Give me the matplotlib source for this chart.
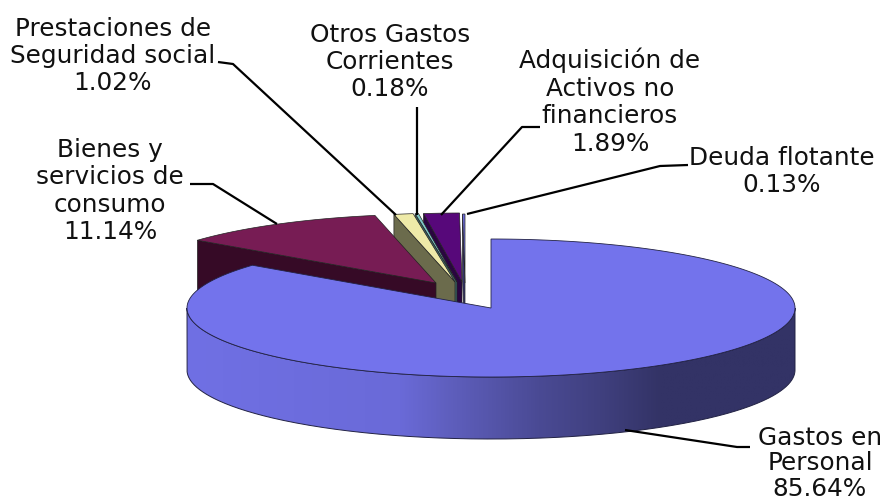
import numpy as np
import matplotlib
matplotlib.use("Agg")
import matplotlib.pyplot as plt
from matplotlib.colors import LinearSegmentedColormap
from matplotlib.patches import Polygon, PathPatch
from matplotlib.path import Path

# Data
labels = ["Gastos en\nPersonal", "Bienes y\nservicios de\nconsumo", "Prestaciones de\nSeguridad social",
          "Otros Gastos\nCorrientes", "Adquisición de\nActivos no\nfinancieros", "Deuda flotante"]
values = [85.64, 11.14, 1.02, 0.18, 1.89, 0.13]

# Slice look
top_colors = ["#7373ec", "#771c54", "#eeeaa8", "#7fc8c8", "#57087a", "#6c6cd8"]
side_colors = ["#7070e0", "#360a26", "#6b6b4c", "#3c6464", "#2a0540", "#34346c"]
shift_x = [0, -55, -36, -34, -29, -26]
shift_y = [0, -25, -26, -26, -26, -25]

# Ellipse in pixels
cx, cy = 491, 308
rx, ry = 304, 69
depth = 62

label_x = [820, 110, 113, 390, 610, 782]
label_y = [445, 157, 36, 42, 68, 165]
line_gap = [25.5, 27.3, 26.8, 27, 27.6, 27]

leaders = [
    [(625, 430), (737, 447), (750, 447)],
    [(190, 184), (213, 184), (277, 224)],
    [(218, 62), (233, 64), (396, 215)],
    [(417, 107), (417, 215)],
    [(540, 127), (522, 127), (441, 215)],
    [(688, 165), (660, 166), (467, 214)],
]

fig = plt.figure(figsize=(8.85, 5.03), dpi=100)
ax = fig.add_axes([0, 0, 1, 1])
ax.set_xlim(0, 885)
ax.set_ylim(503, 0)
ax.axis("off")

# Clockwise from 12 o'clock
edges = np.concatenate([[0], np.cumsum(values)]) / sum(values) * 360


def rim(a0, a1, dx=0, dy=0, drop=0):
    t = np.radians(np.linspace(a0, a1, max(int(abs(a1 - a0)) * 2, 2)))
    return np.column_stack([cx + dx + rx * np.sin(t), cy + dy + drop - ry * np.cos(t)])


# Small slices from the back, then the burgundy one, blue last
for i in [5, 4, 3, 2, 1]:
    a0, a1 = edges[i], edges[i + 1]
    apex = np.array([cx + shift_x[i], cy + shift_y[i]])
    outer = rim(a0, a1, shift_x[i], shift_y[i])
    first = outer[0]
    face = [apex, first, first + [0, depth], apex + [0, depth]]
    ax.add_patch(Polygon(face, fc=side_colors[i], ec="#222222", lw=0.5, zorder=2 + (5 - i)))
    ax.add_patch(Polygon(np.vstack([apex, outer]), fc=top_colors[i], ec="#222222", lw=0.5, zorder=2 + (5 - i)))

# Blue outer wall with the left-to-right shading
wall = np.vstack([rim(90, 270), rim(90, 270, drop=depth)[::-1]])
wall_patch = PathPatch(Path(np.vstack([wall, wall[0]])), fc="none", ec="#222244", lw=0.7, zorder=9)
ax.add_patch(wall_patch)
shade = LinearSegmentedColormap.from_list("wall", [(0, "#7070e4"), (0.35, "#6a6ad8"), (0.43, "#5f5fbe"),
                                                   (0.58, "#4a4a94"), (0.68, "#40407f"), (0.78, "#333366"),
                                                   (1, "#333366")])
im = ax.imshow(np.linspace(0, 1, 256)[None, :], cmap=shade, aspect="auto", zorder=8,
               extent=[cx - rx, cx + rx, cy + ry + depth, cy - ry])
im.set_clip_path(wall_patch)
ax.set_xlim(0, 885)
ax.set_ylim(503, 0)

blue_top = np.vstack([[cx, cy], rim(edges[0], edges[1])])
ax.add_patch(Polygon(blue_top, fc=top_colors[0], ec="#222244", lw=0.6, zorder=10))

# Leader lines
for pts in leaders:
    xs, ys = zip(*pts)
    ax.plot(xs, ys, color="black", lw=1.6, zorder=12, solid_capstyle="butt")

# Labels
for lab, val, x, y, gap in zip(labels, values, label_x, label_y, line_gap):
    for k, line in enumerate((lab + "\n" + f"{val:.2f}%").split("\n")):
        ax.text(x, y + k * gap, line, ha="center", va="baseline", fontsize=17.8,
                family="DejaVu Sans", color="#111111", zorder=13)

fig.savefig("out.png", dpi=100)
